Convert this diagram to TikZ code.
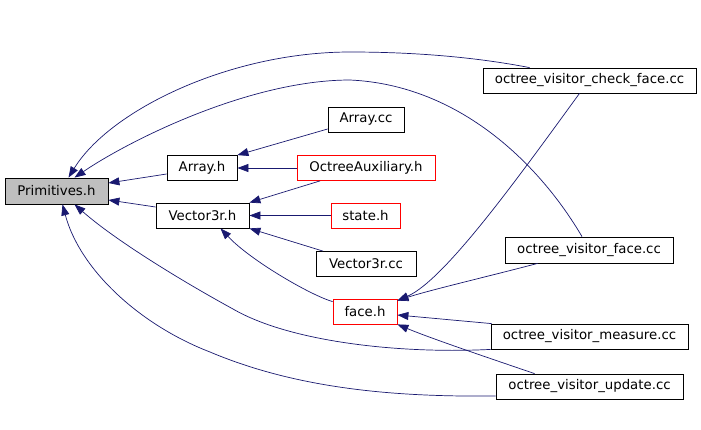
\documentclass[tikz,border=0pt]{standalone}
\usepackage{fontspec}
\setmainfont{DejaVu Sans}
\usetikzlibrary{arrows.meta}
\definecolor{edgecol}{HTML}{191970}
\definecolor{grayfill}{HTML}{BFBFBF}
\begin{document}
\begin{tikzpicture}[x=1pt,y=-1pt,
  box/.style={draw=black, line width=0.8pt, inner sep=0pt, minimum height=25pt,
    font=\fontsize{13.3}{15}\selectfont, anchor=center},
  redbox/.style={box, draw=red},
  edge/.style={draw=edgecol, line width=0.7pt, -{Triangle[length=11pt,width=8pt]}}]
\useasboundingbox[fill=white] (0,0) rectangle (701,429);

\node[box, fill=grayfill, minimum width=103pt, minimum height=26pt] (prim) at (56.5,191) {Primitives.h};
\node[box, minimum width=70pt] (arrh) at (202,168) {Array.h};
\node[box, minimum width=93pt] (vec) at (202.5,215.5) {Vector3r.h};
\node[box, minimum width=76pt] (arrcc) at (366,119.5) {Array.cc};
\node[redbox, minimum width=138pt] (oct) at (366,168) {OctreeAuxiliary.h};
\node[redbox, minimum width=69pt] (state) at (365.5,215.5) {state.h};
\node[box, minimum width=100pt] (veccc) at (366,264) {Vector3r.cc};
\node[redbox, minimum width=64pt] (face) at (365,311.5) {face.h};
\node[box, minimum width=213pt] (check) at (589.5,80.5) {octree\_visitor\_check\_face.cc};
\node[box, minimum width=168pt, minimum height=26pt] (vface) at (589,250) {octree\_visitor\_face.cc};
\node[box, minimum width=197pt] (meas) at (589.5,336.5) {octree\_visitor\_measure.cc};
\node[box, minimum width=187pt] (upd) at (589.5,386.5) {octree\_visitor\_update.cc};

\draw[edge] ([yshift=-6pt]arrh.west) -- ([yshift=8pt]prim.east);
\draw[edge] ([yshift=8.5pt]vec.west) -- ([yshift=-9pt]prim.east);
\draw[edge] ([yshift=-9.5pt]arrcc.west) -- (arrh.north east);
\draw[edge] (oct.west) -- (arrh.east);
\draw[edge] ([xshift=-46pt]oct.south) -- (vec.north east);
\draw[edge] (state.west) -- (vec.east);
\draw[edge] ([xshift=-43pt]veccc.north) -- (vec.south east);
\draw[edge] ([yshift=-3pt]face.north west) .. controls (310,295) and (250,260) .. ([xshift=18pt]vec.south);

\draw[edge] ([xshift=47pt]check.north west) .. controls (480,58) and (420,52) .. (350,52)
  .. controls (230,52) and (110,110) .. ([xshift=12pt]prim.north);
\draw[edge] ([xshift=-7pt]vface.north) .. controls (540,165) and (460,85) .. (350,80)
  .. controls (250,80) and (130,140) .. ([xshift=18pt]prim.north);

\draw[edge] ([xshift=-10pt]check.south) .. controls (520,175) and (445,280) .. ([yshift=-2pt]face.north east);
\draw[edge] ([xshift=33pt]vface.south west) .. controls (490,276) and (430,290) .. ([yshift=-2pt]face.north east);
\draw[edge] ([xshift=1pt]meas.north west) -- ([yshift=-3.5pt]face.east);
\draw[edge] ([xshift=39pt]upd.north west) .. controls (480,355) and (430,338) .. (face.south east);

\draw[edge] (meas.south west) .. controls (400,354) and (290,342) .. (233,309)
  .. controls (180,280) and (115,240) .. ([xshift=18pt]prim.south);
\draw[edge] ([yshift=-9.5pt]upd.west) .. controls (400,397) and (300,390) .. (210,352)
  .. controls (140,325) and (80,270) .. ([xshift=6pt]prim.south);
\end{tikzpicture}
\end{document}
